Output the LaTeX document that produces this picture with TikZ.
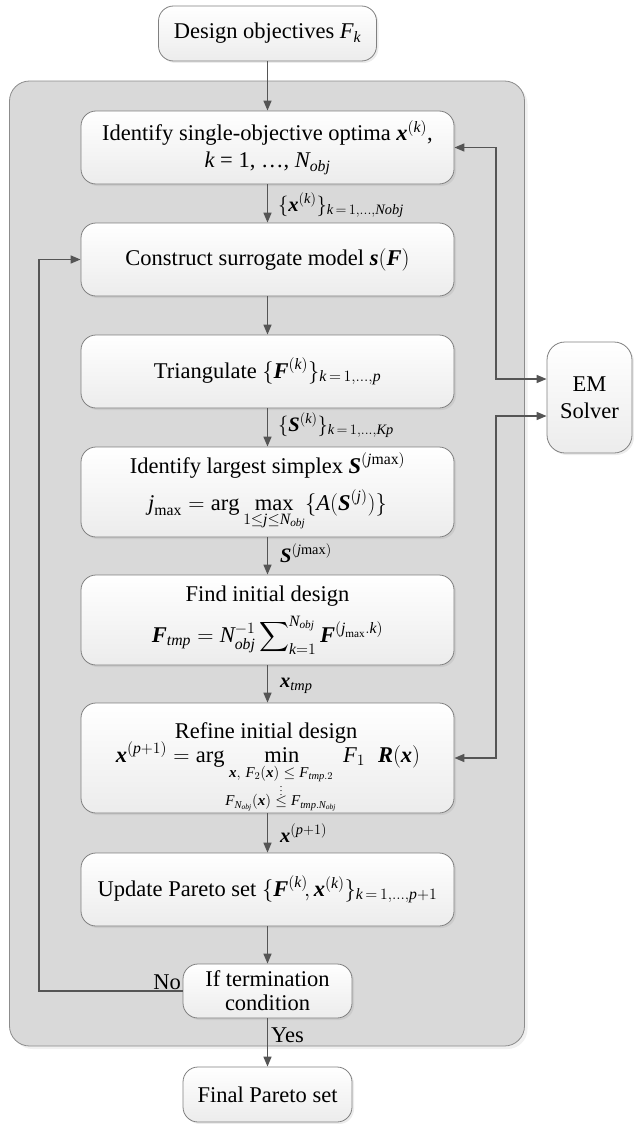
\RequirePackage{fix-cm}
\documentclass[tikz,border=0pt]{standalone}
\usepackage{amsmath}
\usepackage{fontspec}
\setmainfont{Liberation Serif}
\usetikzlibrary{arrows.meta,shadows,calc}
\definecolor{contfill}{RGB}{217,217,217}
\definecolor{contline}{RGB}{140,140,140}
\definecolor{boxline}{RGB}{128,128,128}
\definecolor{boxbot}{RGB}{236,236,236}
\definecolor{arrcol}{RGB}{85,85,85}
\newcommand{\vi}[1]{\textit{#1}}
\newcommand{\vb}[1]{\textbf{\textit{#1}}}
\newcommand{\boxfont}{\fontsize{22.5}{27}\selectfont}
\newcommand{\lblfont}{\fontsize{20.5}{24}\selectfont}
\newcommand{\cstfont}{\fontsize{15}{17}\selectfont}
\begin{document}
\begin{tikzpicture}[x=1pt,y=-1pt,
  cont/.style={draw=contline, line width=0.8pt, fill=contfill, rounded corners=20pt,
    drop shadow={opacity=0.12, shadow xshift=3pt, shadow yshift=-3pt}, inner sep=0pt},
  box/.style={draw=boxline, line width=0.8pt, rounded corners=15pt, top color=white, bottom color=boxbot,
    drop shadow={opacity=0.15, shadow xshift=2pt, shadow yshift=-2pt},
    align=center, inner sep=0pt, font=\boxfont},
  mainbox/.style={box, minimum width=373pt, minimum height=73pt},
  arr/.style={draw=arrcol, line width=1.5pt, -{Triangle[length=10pt,width=8pt]}},
  dbl/.style={draw=arrcol, line width=1.5pt, {Triangle[length=10pt,width=8pt]}-{Triangle[length=10pt,width=8pt]}},
  lbl/.style={anchor=west, inner sep=0pt, font=\lblfont},
  txt/.style={inner sep=0pt, font=\boxfont},
  cst/.style={inner sep=0pt, font=\cstfont},
]
\useasboundingbox (0,0) rectangle (633,1124);

% container
\node[cont, minimum width=515pt, minimum height=965pt] (frame) at (267,563.5) {};

% boxes
\node[box, minimum width=218pt, minimum height=55pt] (design) at (267.5,33.5) {Design objectives $\vi{F}_{\vi{k}}$};

\node[mainbox] (ident) at (267.5,147.5)
  {Identify single-objective optima $\vb{x}^{(\vi{k})}$,\\ $\vi{k}$ = 1, \ldots, $\vi{N}_{\vi{obj}}$};

\node[mainbox] (construct) at (267.5,259.5) {Construct surrogate model $\vb{s}(\vb{F})$};

\node[mainbox] (triang) at (267.5,371.5)
  {Triangulate $\{\vb{F}^{(\vi{k})}\}_{\vi{k}\,=\,1,\ldots,\vi{p}}$};

\node[mainbox, minimum height=90pt] (simplex) at (267.5,492)
  {Identify largest simplex $\vb{S}^{(\vi{j}\mathrm{max})}$\\[10pt]
   $\vi{j}_{\mathrm{max}} = \arg\max\limits_{1\le \vi{j}\le \vi{N}_{\vi{obj}}}\{\vi{A}(\vb{S}^{(\vi{j})})\}$};

\node[mainbox, minimum height=90pt] (find) at (267.5,620)
  {Find initial design\\[9pt]
   $\vb{F}_{\vi{tmp}} = \vi{N}_{\vi{obj}}^{-1}\displaystyle\sum\nolimits_{\vi{k}=1}^{\vi{N}_{\vi{obj}}}\vb{F}^{(\vi{j}_{\mathrm{max}}.\vi{k})}$};

\node[mainbox, minimum height=110pt] (refine) at (267.5,758) {};
\node[txt, anchor=base] (rf1) at (266,738) {Refine initial design};
\node[txt, anchor=base] (rf2) at (268,762)
  {$\vb{x}^{(\vi{p}+1)} = \arg\hspace{36pt}\min\hspace{40pt}\vi{F}_1\hspace{13pt}\vb{R}(\vb{x})$};
\node[cst] (rc1) at (281,774) {$\vb{x},\,\vi{F}_2(\vb{x})\le \vi{F}_{\vi{tmp}.2}$};
\node[cst] (rc2) at (281,788) {\fontsize{10}{10}\selectfont$\vdots$};
\node[cst] (rc3) at (281,803) {$\vi{F}_{\vi{N}_{\vi{obj}}}(\vb{x})\le \vi{F}_{\vi{tmp}.\vi{N}_{\vi{obj}}}$};

\node[mainbox] (update) at (267.5,889.5)
  {Update Pareto set $\{\vb{F}^{(\vi{k})}\!,\vb{x}^{(\vi{k})}\}_{\vi{k}\,=\,1,\ldots,\vi{p}+1}$};

\node[box, minimum width=169pt, minimum height=54pt] (term) at (267.5,991)
  {If termination\\[-3pt] condition};

\node[box, minimum width=169pt, minimum height=55pt] (final) at (267.5,1094.5) {Final Pareto set};

\node[box, minimum width=85pt, minimum height=111pt, rounded corners=18pt] (em) at (589.5,397.5)
  {EM\\ Solver};

% main flow
\draw[arr] (design) -- (ident);
\draw[arr] (ident) -- (construct);
\draw[arr] (construct) -- (triang);
\draw[arr] (triang) -- (simplex);
\draw[arr] (simplex) -- (find);
\draw[arr] (find) -- (refine);
\draw[arr] (refine) -- (update);
\draw[arr] (update) -- (term);
\draw[arr] (term) -- (final);

% labels on flow
\node[lbl] (l1) at (278,205) {$\{\vb{x}^{(\vi{k})}\}_{\vi{k}\,=\,1,\ldots,\vi{Nobj}}$};
\node[lbl] (l2) at (278,425) {$\{\vb{S}^{(\vi{k})}\}_{\vi{k}\,=\,1,\ldots,\vi{Kp}}$};
\node[lbl] (l3) at (280,553) {$\vb{S}^{(\vi{j}\mathrm{max})}$};
\node[lbl] (l4) at (280,686) {$\vb{x}_{\vi{tmp}}$};
\node[lbl] (l5) at (280,833) {$\vb{x}^{(\vi{p}+1)}$};

% loop back
\coordinate (loopc) at (39,991);
\draw[arr] (term.west) -- (loopc) |- (construct.west);
\node[txt, anchor=east] (no) at (181,982) {No};
\node[txt, anchor=west] (yes) at (271,1035) {Yes};

% EM solver links
\coordinate (busx) at (496,0);
\coordinate (em1) at ($(em.west)+(0,-18.5)$);
\coordinate (em2) at ($(em.west)+(0,18.5)$);
\draw[dbl] (ident.east) -- (ident.east -| busx) |- (em1);
\draw[dbl] (refine.east) -- (refine.east -| busx) |- (em2);
\end{tikzpicture}
\end{document}
